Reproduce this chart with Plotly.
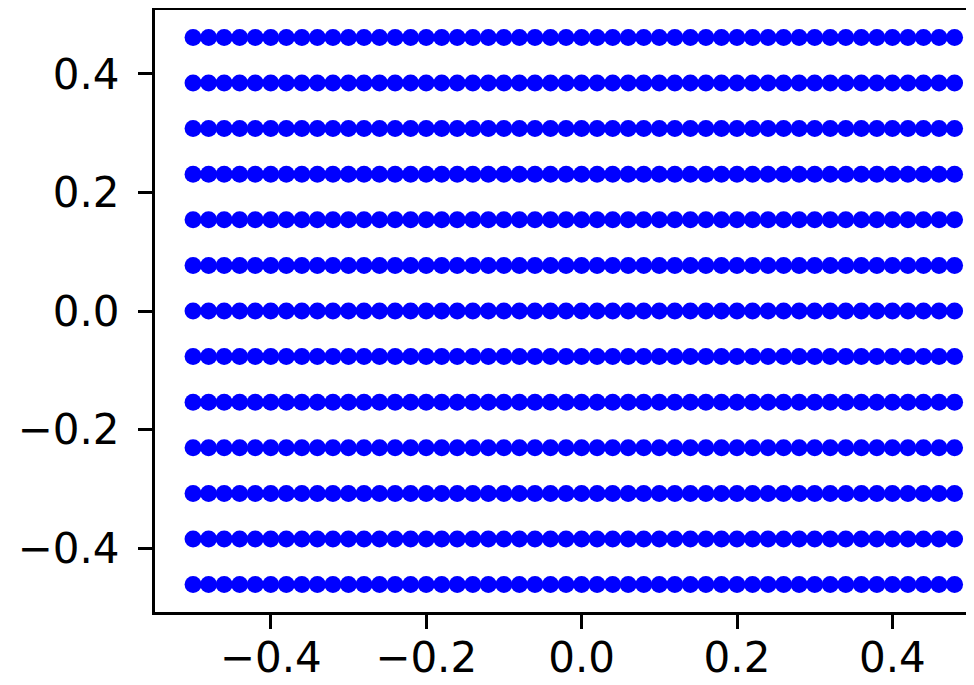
import plotly.graph_objects as go

# Grid point coordinates
x_values = [-0.50, -0.48, -0.46, -0.44, -0.42, -0.40, -0.38, -0.36, -0.34, -0.32,
            -0.30, -0.28, -0.26, -0.24, -0.22, -0.20, -0.18, -0.16, -0.14, -0.12,
            -0.10, -0.08, -0.06, -0.04, -0.02, 0.00, 0.02, 0.04, 0.06, 0.08,
            0.10, 0.12, 0.14, 0.16, 0.18, 0.20, 0.22, 0.24, 0.26, 0.28,
            0.30, 0.32, 0.34, 0.36, 0.38, 0.40, 0.42, 0.44, 0.46, 0.48]
y_values = [-0.4615, -0.3846, -0.3077, -0.2308, -0.1538, -0.0769, 0.0,
            0.0769, 0.1538, 0.2308, 0.3077, 0.3846, 0.4615]
tick_values = [-0.4, -0.2, 0.0, 0.2, 0.4]

xs, ys = [], []
for yv in y_values:
    for xv in x_values:
        xs.append(xv)
        ys.append(yv)

fig = go.Figure(go.Scatter(
    x=xs, y=ys, mode="markers",
    marker=dict(color="#0000ff", size=17, line=dict(width=0)),
    hoverinfo="skip",
))

axis_common = dict(
    showgrid=False, zeroline=False, automargin=False,
    showline=True, linecolor="black", linewidth=3,
    ticks="outside", ticklen=14, tickwidth=3, tickcolor="black",
    tickvals=tick_values, tickformat=".1f",
    tickfont=dict(family="DejaVu Sans", size=42, color="black"),
)

fig.update_layout(
    width=966, height=677,
    margin=dict(l=147, r=0, t=2, b=73),
    paper_bgcolor="white", plot_bgcolor="white",
    showlegend=False,
    xaxis=dict(range=[-0.549, 0.505], mirror=True, ticklabelstandoff=-7, **axis_common),
    yaxis=dict(range=[-0.5077, 0.5077], mirror=False, ticklabelstandoff=10, **axis_common),
)

fig.write_html("out.html")
